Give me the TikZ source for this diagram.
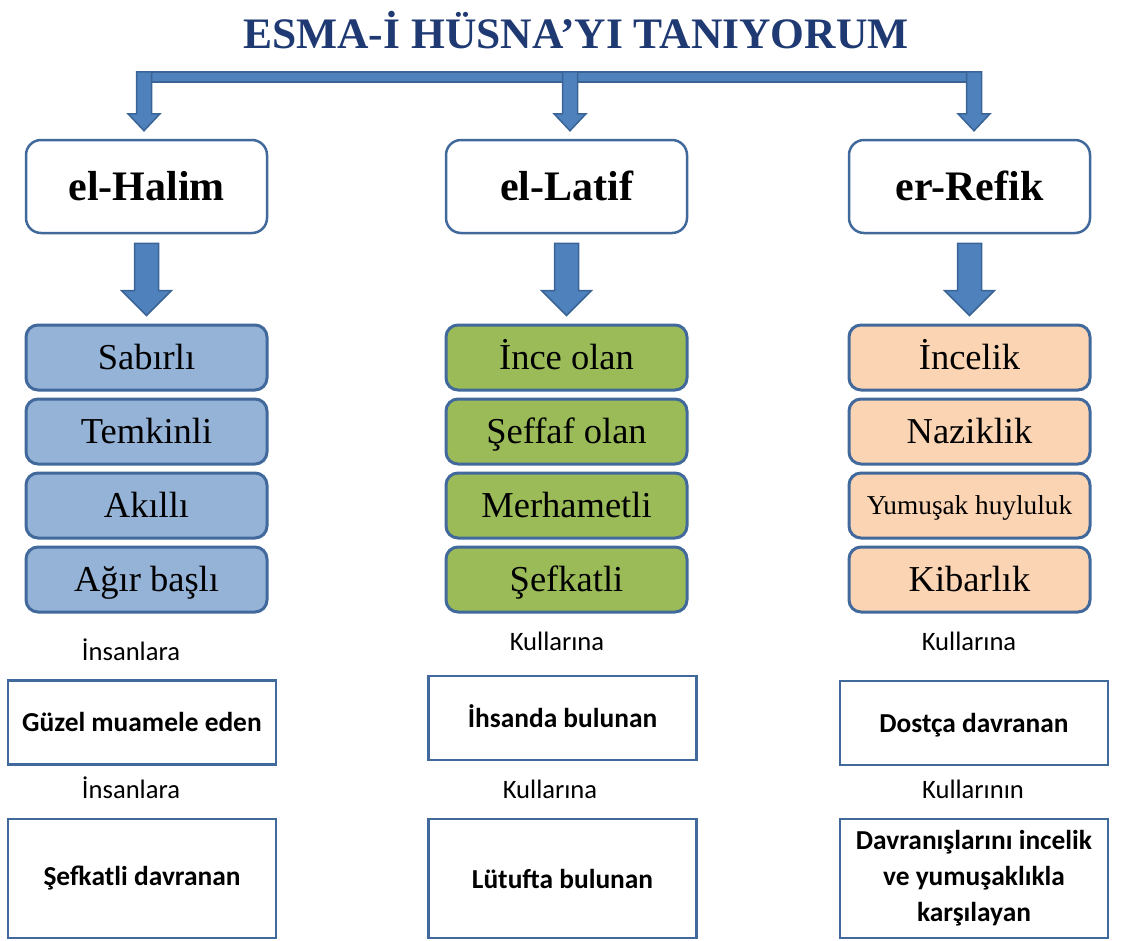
\documentclass[tikz,border=0pt]{standalone}
\usepackage{fontspec}
\setmainfont{Liberation Serif}
\newfontfamily\calibri{Carlito}
\usetikzlibrary{calc}
\definecolor{arrowfill}{HTML}{4F81BD}
\definecolor{arrowline}{HTML}{3A6496}
\definecolor{boxline}{HTML}{41699C}
\definecolor{bluefill}{HTML}{95B3D7}
\definecolor{greenfill}{HTML}{9BBB59}
\definecolor{peachfill}{HTML}{FBD4B4}
\definecolor{titlecol}{HTML}{1F3A73}
\tikzset{
  blockarrow/.style={fill=arrowfill, draw=arrowline, line width=1.5pt, line join=miter},
  headbox/.style={draw=boxline, fill=white, line width=2.5pt, rounded corners=15pt,
    minimum width=241pt, minimum height=93pt, inner sep=0pt,
    font=\fontsize{42}{48}\selectfont\bfseries, text height=28pt, text depth=0pt},
  itembox/.style={draw=boxline, line width=3pt, rounded corners=12pt,
    minimum width=241pt, minimum height=65pt, inner sep=0pt,
    font=\fontsize{36.5}{40}\selectfont, text height=24pt, text depth=0pt},
  bluebox/.style={itembox, fill=bluefill},
  greenbox/.style={itembox, fill=greenfill},
  peachbox/.style={itembox, fill=peachfill},
  botbox/.style={draw=boxline, fill=white, line width=2.5pt,
    minimum width=268pt, inner sep=0pt, align=center,
    font=\calibri\bfseries\fontsize{27.4}{36}\selectfont},
  botone/.style={botbox, minimum height=84pt, text height=18pt, text depth=0pt},
  bottwo/.style={botbox, minimum height=119pt},
  lbl/.style={anchor=base, inner sep=0pt, font=\calibri\fontsize{26.6}{30}\selectfont}
}
\newcommand\blockdown[5]{% top, tip, shaft half, head half, head length
  \draw[blockarrow] ($(#1)+(-#3,0)$) -- ($(#1)+(#3,0)$) -- ($(#2)+(#3,-#5)$)
    -- ($(#2)+(#4,-#5)$) -- (#2) -- ($(#2)+(-#4,-#5)$) -- ($(#2)+(-#3,-#5)$) -- cycle;}
\begin{document}
\begin{tikzpicture}[x=1pt,y=-1pt]
\useasboundingbox (0,0) rectangle (1123,940);

% title
\node[anchor=base, inner sep=0pt, text=titlecol,
  font=\fontsize{43.5}{48}\selectfont\bfseries] (title) at (576,48) {ESMA-İ HÜSNA’YI TANIYORUM};

% header boxes
\node[headbox] (hA) at (146.5,186.5) {el-Halim};
\node[headbox] (hB) at (566.5,186.5) {el-Latif};
\node[headbox] (hC) at (969.5,186.5) {er-Refik};

% item boxes
\node[bluebox] (iA1) at (146.5,357.5) {Sabırlı};
\node[bluebox] (iA2) at (146.5,431.5) {Temkinli};
\node[bluebox] (iA3) at (146.5,505.5) {Akıllı};
\node[bluebox] (iA4) at (146.5,579.5) {Ağır başlı};

\node[greenbox] (iB1) at (566.5,357.5) {İnce olan};
\node[greenbox] (iB2) at (566.5,431.5) {Şeffaf olan};
\node[greenbox] (iB3) at (566.5,505.5) {Merhametli};
\node[greenbox] (iB4) at (566.5,579.5) {Şefkatli};

\node[peachbox] (iC1) at (969.5,357.5) {İncelik};
\node[peachbox] (iC2) at (969.5,431.5) {Naziklik};
\node[peachbox, font=\fontsize{27.3}{30}\selectfont, text height=18pt] (iC3) at (969.5,505.5) {Yumuşak huyluluk};
\node[peachbox] (iC4) at (969.5,579.5) {Kibarlık};

% labels
\node[lbl] (lA1) at (131,660) {İnsanlara};
\node[lbl] (lA2) at (131,798) {İnsanlara};
\node[lbl] (lB1) at (557,650) {Kullarına};
\node[lbl] (lB2) at (550,798) {Kullarına};
\node[lbl] (lC1) at (969,650) {Kullarına};
\node[lbl] (lC2) at (973,798) {Kullarının};

% bottom boxes
\node[botone] (bA1) at (142,722.5) {Güzel muamele eden};
\node[bottwo] (bA2) at (142,878.5) {Şefkatli davranan};
\node[botone] (bB1) at (562.5,718) {İhsanda bulunan};
\node[bottwo] (bB2) at (562.5,878.5) {Lütufta bulunan};
\node[botone] (bC1) at (974,723) {Dostça davranan};
\node[bottwo] (bC2) at (974,878.5) {Davranışlarını incelik\\ve yumuşaklıkla\\karşılayan};

% top bracket
\coordinate (tA) at ($(hA.north)+(-2.5,-8)$);
\coordinate (tB) at ($(hB.north)+(3.5,-8)$);
\coordinate (tC) at ($(hC.north)+(4.5,-8)$);
\coordinate (sA) at ($(tA)+(0,-59)$);
\coordinate (sB) at ($(tB)+(0,-59)$);
\coordinate (sC) at ($(tC)+(0,-59)$);
\draw[blockarrow] ($(sA)+(-7.5,0)$) rectangle ($(sC)+(7.5,10)$);
\blockdown{sA}{tA}{7.5}{16}{17}
\blockdown{sB}{tB}{7.5}{16}{17}
\blockdown{sC}{tC}{7.5}{16}{17}

% arrows header -> items
\coordinate (mA) at ($(hA.south)+(0,9)$);
\coordinate (nA) at ($(iA1.north)+(0,-8)$);
\coordinate (mB) at ($(hB.south)+(0,9)$);
\coordinate (nB) at ($(iB1.north)+(0,-8)$);
\coordinate (mC) at ($(hC.south)+(0,9)$);
\coordinate (nC) at ($(iC1.north)+(0,-8)$);
\blockdown{mA}{nA}{12}{25}{25}
\blockdown{mB}{nB}{12}{25}{25}
\blockdown{mC}{nC}{12}{25}{25}
\end{tikzpicture}
\end{document}
